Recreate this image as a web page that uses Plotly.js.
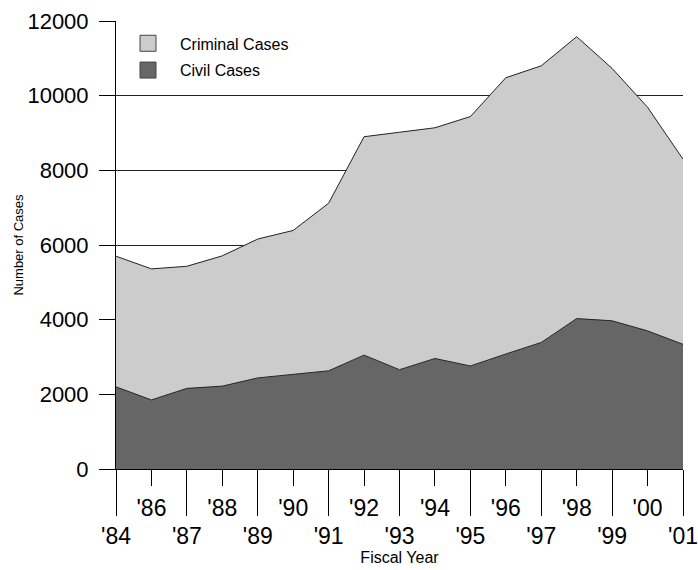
<!DOCTYPE html>
<html>
<head>
<meta charset="utf-8">
<script src="https://cdn.plot.ly/plotly-3.0.1.min.js"></script>
<style>html,body{margin:0;padding:0;background:#fff;}#chart{width:698px;height:570px;}</style>
</head>
<body>
<div id="chart"></div>
<script>
// Fiscal years (as labelled on the chart; '85 is not labelled)
var years = ["'84", "'86", "'87", "'88", "'89", "'90", "'91", "'92", "'93", "'94", "'95", "'96", "'97", "'98", "'99", "'00", "'01"];
// Civil cases (bottom, dark)
var civilCases = [2200, 1850, 2160, 2220, 2440, 2540, 2630, 3050, 2660, 2960, 2760, 3080, 3390, 4030, 3970, 3700, 3340];
// Criminal cases (stacked on top of civil)
var criminalCases = [3500, 3510, 3270, 3490, 3720, 3850, 4490, 5850, 6360, 6180, 6680, 7400, 7410, 7550, 6760, 5990, 4960];
var yTicks = [0, 2000, 4000, 6000, 8000, 10000, 12000];
var yTickText = ['0', '2000', '4000', '6000', '8000', '10000', '12000'];

var FONT = "Arial, 'Liberation Sans', sans-serif";
var idx = years.map(function (_, i) { return i; });
var lowerIdx = idx.filter(function (i) { return i % 2 === 0; });
var upperIdx = idx.filter(function (i) { return i % 2 === 1; });

var traces = [
  {
    x: idx, y: civilCases, type: 'scatter', mode: 'lines', stackgroup: 'cases',
    fillcolor: '#666666', line: {color: '#222222', width: 1}, showlegend: false,
    name: 'Civil Cases', hoverinfo: 'skip'
  },
  {
    x: idx, y: criminalCases, type: 'scatter', mode: 'lines', stackgroup: 'cases',
    fillcolor: '#cccccc', line: {color: '#222222', width: 1}, showlegend: false,
    name: 'Criminal Cases', hoverinfo: 'skip'
  },
  // legend entries
  {
    x: [null], y: [null], type: 'scatter', mode: 'markers', name: 'Criminal Cases',
    legendgroup: 'crim',
    marker: {symbol: 'square', size: 16, color: '#cccccc', line: {color: '#444444', width: 1}}
  },
  {
    x: [null], y: [null], type: 'scatter', mode: 'markers', name: 'Civil Cases',
    legendgroup: 'civ',
    marker: {symbol: 'square', size: 16, color: '#666666', line: {color: '#444444', width: 1}}
  },
  // invisible trace to activate the second x axis
  {
    x: idx, y: idx.map(function () { return null; }), xaxis: 'x2', type: 'scatter',
    mode: 'lines', showlegend: false, hoverinfo: 'skip'
  }
];

var layout = {
  width: 698, height: 570,
  margin: {l: 116, r: 15, t: 21, b: 101},
  paper_bgcolor: '#ffffff', plot_bgcolor: '#ffffff',
  font: {family: FONT, color: '#000000'},
  showlegend: true,
  legend: {
    x: 0.0, y: 0.988, xanchor: 'left', yanchor: 'top',
    bgcolor: 'rgba(0,0,0,0)', borderwidth: 0,
    font: {family: FONT, size: 16, color: '#000'},
    itemwidth: 54,
    tracegroupgap: 3, traceorder: 'grouped'
  },
  xaxis: {
    range: [0, 16], tickmode: 'array',
    tickvals: lowerIdx, ticktext: lowerIdx.map(function (i) { return years[i]; }),
    ticks: 'outside', ticklen: 46, tickwidth: 1, tickcolor: '#000',
    showgrid: false, zeroline: false, showline: true, linecolor: '#000', linewidth: 1,
    tickfont: {family: FONT, size: 23, color: '#000'},
    ticklabelstandoff: 0,
    title: {text: 'Fiscal Year', font: {family: FONT, size: 16, color: '#000'}, standoff: 1},
    fixedrange: true
  },
  xaxis2: {
    overlaying: 'x', anchor: 'y', side: 'bottom',
    range: [0, 16], tickmode: 'array',
    tickvals: upperIdx, ticktext: upperIdx.map(function (i) { return years[i]; }),
    ticks: 'outside', ticklen: 16, tickwidth: 1, tickcolor: '#000',
    showgrid: false, zeroline: false, showline: false,
    tickfont: {family: FONT, size: 23, color: '#000'},
    ticklabelstandoff: 2,
    fixedrange: true
  },
  yaxis: {
    range: [0, 12000], tickmode: 'array', tickvals: yTicks, ticktext: yTickText,
    ticks: 'outside', ticklen: 16, tickwidth: 1, tickcolor: '#000',
    showgrid: true, gridcolor: '#222222', gridwidth: 1,
    zeroline: false, showline: true, linecolor: '#000', linewidth: 1,
    tickfont: {family: FONT, size: 22, color: '#000'},
    ticklabelstandoff: 6,
    title: {text: '\u00a0\u00a0\u00a0\u00a0\u00a0Number of Cases', font: {family: FONT, size: 13, color: '#000'}, standoff: 0},
    fixedrange: true
  }
};

Plotly.newPlot('chart', traces, layout, {staticPlot: true, displayModeBar: false});
</script>
</body>
</html>
